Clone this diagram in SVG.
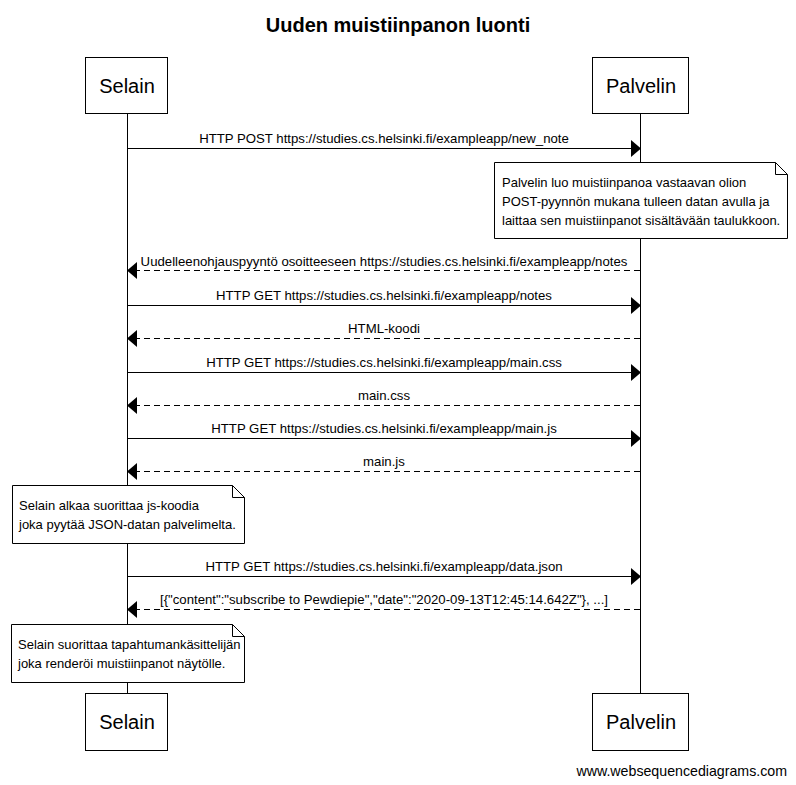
<svg xmlns="http://www.w3.org/2000/svg" width="796" height="785" viewBox="0 0 796 785">
<style>
text{font-family:"Liberation Sans",Arial,sans-serif;fill:#000}
.actor{fill:#fff;stroke:#000;stroke-width:1}
.actor-label{font-size:20px;text-anchor:middle}
.life{stroke:#000;stroke-width:1}
.msg{stroke:#000;stroke-width:1;fill:none}
.dash{stroke-dasharray:6,4}
.lbl{font-size:13.2px;text-anchor:middle}
.note{fill:#fff;stroke:#000;stroke-width:1}
.ntxt{font-size:13px}
.head{fill:#000}
</style>
<rect width="796" height="785" fill="#fff"/>
<text x="398" y="32" font-size="20" font-weight="bold" text-anchor="middle">Uuden muistiinpanon luonti</text>
<g id="lifelines">
<line class="life" x1="127.5" y1="114" x2="127.5" y2="694"/>
<line class="life" x1="640.5" y1="114" x2="640.5" y2="694"/>
</g>
<g id="selain-top"><rect class="actor" x="85.5" y="57.5" width="82" height="56"/><text class="actor-label" x="127" y="93">Selain</text></g>
<g id="palvelin-top"><rect class="actor" x="592.5" y="57.5" width="96" height="56"/><text class="actor-label" x="641" y="93">Palvelin</text></g>
<g id="selain-bottom"><rect class="actor" x="85.5" y="693.5" width="82" height="57"/><text class="actor-label" x="127" y="729">Selain</text></g>
<g id="palvelin-bottom"><rect class="actor" x="592.5" y="693.5" width="96" height="57"/><text class="actor-label" x="641" y="729">Palvelin</text></g>
<g id="connectors">
<line class="msg" x1="127.5" y1="148.5" x2="632" y2="148.5"/><polygon class="head" points="631,140 641,148.5 631,157"/>
<text class="lbl" x="384" y="143">HTTP POST https://studies.cs.helsinki.fi/exampleapp/new_note</text>
<line class="msg dash" x1="640" y1="270.5" x2="136" y2="270.5"/><polygon class="head" points="137,262 127,270.5 137,279"/>
<text class="lbl" x="384" y="266">Uudelleenohjauspyyntö osoitteeseen https://studies.cs.helsinki.fi/exampleapp/notes</text>
<line class="msg" x1="127.5" y1="305.5" x2="632" y2="305.5"/><polygon class="head" points="631,297 641,305.5 631,314"/>
<text class="lbl" x="384" y="300">HTTP GET https://studies.cs.helsinki.fi/exampleapp/notes</text>
<line class="msg dash" x1="640" y1="338.5" x2="136" y2="338.5"/><polygon class="head" points="137,330 127,338.5 137,347"/>
<text class="lbl" x="384" y="333">HTML-koodi</text>
<line class="msg" x1="127.5" y1="372.5" x2="632" y2="372.5"/><polygon class="head" points="631,364 641,372.5 631,381"/>
<text class="lbl" x="384" y="367">HTTP GET https://studies.cs.helsinki.fi/exampleapp/main.css</text>
<line class="msg dash" x1="640" y1="405.5" x2="136" y2="405.5"/><polygon class="head" points="137,397 127,405.5 137,414"/>
<text class="lbl" x="384" y="400">main.css</text>
<line class="msg" x1="127.5" y1="438.5" x2="632" y2="438.5"/><polygon class="head" points="631,430 641,438.5 631,447"/>
<text class="lbl" x="384" y="433">HTTP GET https://studies.cs.helsinki.fi/exampleapp/main.js</text>
<line class="msg dash" x1="640" y1="471.5" x2="136" y2="471.5"/><polygon class="head" points="137,463 127,471.5 137,480"/>
<text class="lbl" x="384" y="466">main.js</text>
<line class="msg" x1="127.5" y1="576.5" x2="632" y2="576.5"/><polygon class="head" points="631,568 641,576.5 631,585"/>
<text class="lbl" x="384" y="571">HTTP GET https://studies.cs.helsinki.fi/exampleapp/data.json</text>
<line class="msg dash" x1="640" y1="609.5" x2="136" y2="609.5"/><polygon class="head" points="137,601 127,609.5 137,618"/>
<text class="lbl" x="384" y="604">[{"content":"subscribe to Pewdiepie","date":"2020-09-13T12:45:14.642Z"}, ...]</text>
</g>
<g id="note-palvelin">
<path class="note" d="M494.5,162.5 H775.5 L787.5,174.5 V238.5 H494.5 Z"/>
<path class="msg" d="M775.5,162.5 V174.5 H787.5"/>
<text class="ntxt" x="502" y="187">Palvelin luo muistiinpanoa vastaavan olion</text>
<text class="ntxt" x="502" y="206">POST-pyynnön mukana tulleen datan avulla ja</text>
<text class="ntxt" x="502" y="225">laittaa sen muistiinpanot sisältävään taulukkoon.</text>
</g>
<g id="note-selain-1">
<path class="note" d="M12.5,485.5 H232.5 L244.5,497.5 V543.5 H12.5 Z"/>
<path class="msg" d="M232.5,485.5 V497.5 H244.5"/>
<text class="ntxt" x="19" y="510">Selain alkaa suorittaa js-koodia</text>
<text class="ntxt" x="19" y="529">joka pyytää JSON-datan palvelimelta.</text>
</g>
<g id="note-selain-2">
<path class="note" d="M11.5,624.5 H232.5 L244.5,636.5 V682.5 H11.5 Z"/>
<path class="msg" d="M232.5,624.5 V636.5 H244.5"/>
<text class="ntxt" x="18" y="649">Selain suorittaa tapahtumankäsittelijän</text>
<text class="ntxt" x="18" y="668">joka renderöi muistiinpanot näytölle.</text>
</g>
<text x="787" y="776" font-size="14.2" text-anchor="end">www.websequencediagrams.com</text>
</svg>
